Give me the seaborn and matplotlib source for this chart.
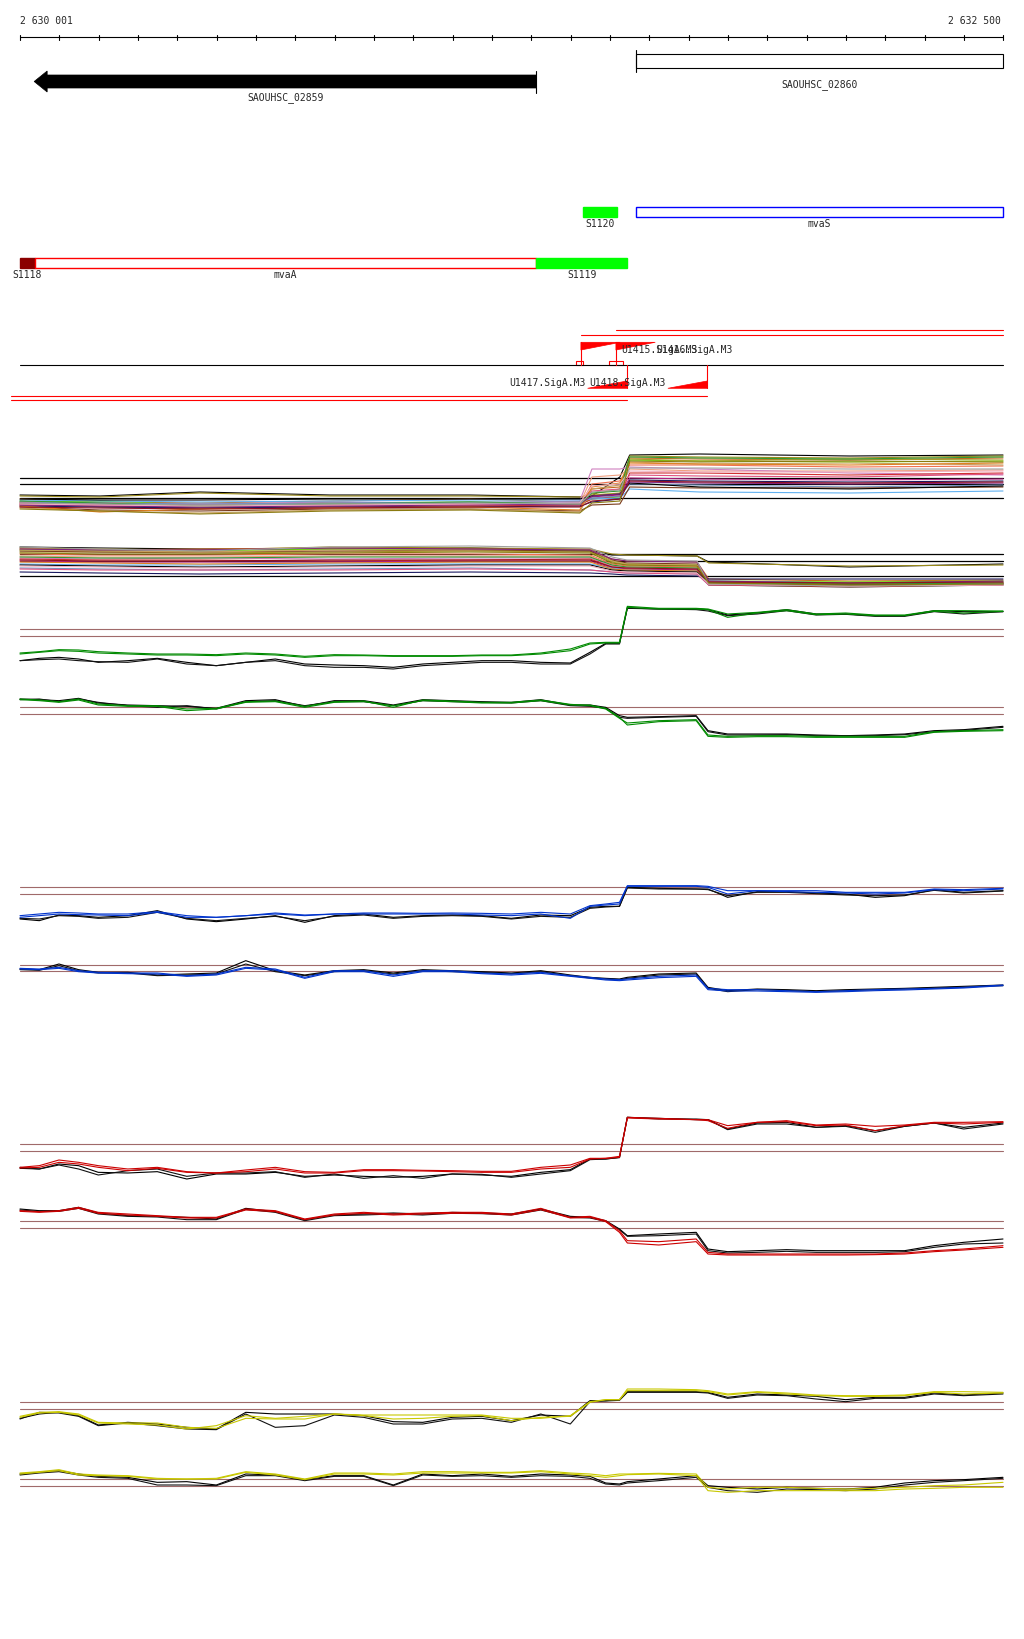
import numpy as np
import pandas as pd
import matplotlib
matplotlib.use("Agg")
import matplotlib.pyplot as plt
from matplotlib.patches import Rectangle, Polygon
import seaborn as sns

# ===================== DATA =====================
region_start = 2630001
region_end = 2632500
tick_step = 100
ruler_labels = ["2 630 001", "2 632 500"]

# genes (top lane)
gene_names = ["SAOUHSC_02859", "SAOUHSC_02860"]
gene_starts = [2630037, 2631567]
gene_ends = [2631313, 2632500]
gene_strands = ["-", "+"]

# feature lane 1
lane1_names = ["S1120", "mvaS"]
lane1_starts = [2631432, 2631567]
lane1_ends = [2631519, 2632500]
lane1_kind = ["fill_green", "outline_blue"]

# feature lane 2
lane2_names = ["S1118", "mvaA", "S1119"]
lane2_starts = [2630001, 2630038, 2631314]
lane2_ends = [2630038, 2631314, 2631544]
lane2_kind = ["fill_darkred", "outline_red", "fill_green"]

# promoters
prom_names = ["U1415.SigA.M3", "U1416.SigA.M3", "U1417.SigA.M3", "U1418.SigA.M3"]
prom_pos = [2631427, 2631516, 2631544, 2631748]
prom_strand = ["+", "+", "-", "-"]
prom_tx_end = [2632500, 2632500, 2629977, 2629977]
prom_box_starts = [2631414, 2631498]
prom_box_ends = [2631432, 2631534]

# ---- multi-condition tracks (A: upper, B: lower) ----
multi_colors = ["#000000", "#9a8a1a", "#c46a1e", "#66dd00", "#a89a2a", "#f07050",
                "#f0a080", "#d080c0", "#d03030", "#b02080", "#1a1a60", "#60b0f0",
                "#7090c0", "#7a3a1a", "#c8a060", "#e08020", "#e05080", "#000000",
                "#802080", "#339933", "#f0b0c0", "#901020", "#a0a0a0", "#8a7a10"]

trackA_pos = [2630001, 2630204, 2630458, 2630789, 2631145, 2631424,
              2631455, 2631526, 2631551, 2631729, 2632110, 2632500]
trackA_ref = [479, 485, 499]
trackA_values = [
    [496, 497, 493, 496, 496, 498, 497, 478, 456, 455, 457, 456],
    [497, 498, 494, 497, 497, 498, 495, 490, 457, 458, 459, 457],
    [500, 503, 504, 502, 500, 503, 490, 488, 459, 460, 461, 459],
    [503, 502, 506, 504, 503, 505, 500, 498, 461, 462, 463, 462],
    [502, 508, 510, 503, 506, 506, 496, 494, 460, 462, 460, 461],
    [504, 505, 508, 506, 505, 507, 485, 482, 466, 466, 468, 467],
    [505, 506, 507, 507, 506, 505, 478, 476, 470, 472, 472, 471],
    [503, 504, 505, 503, 504, 502, 470, 470, 468, 470, 474, 476],
    [506, 507, 509, 508, 507, 506, 500, 497, 474, 474, 476, 474],
    [505, 505, 506, 506, 505, 504, 498, 496, 479, 480, 481, 480],
    [507, 508, 509, 508, 508, 507, 503, 500, 481, 482, 483, 482],
    [501, 502, 503, 502, 501, 501, 500, 499, 490, 493, 494, 492],
    [503, 504, 505, 504, 503, 503, 499, 497, 485, 486, 488, 486],
    [508, 511, 512, 510, 510, 512, 506, 505, 488, 489, 489, 488],
    [509, 512, 514, 511, 510, 513, 490, 486, 463, 465, 464, 466],
    [507, 513, 510, 509, 508, 511, 488, 484, 464, 465, 466, 464],
    [504, 506, 507, 506, 505, 506, 492, 490, 476, 477, 478, 475],
    [500, 501, 501, 500, 500, 500, 497, 495, 484, 488, 490, 487],
    [506, 507, 508, 507, 506, 505, 497, 495, 483, 484, 485, 484],
    [502, 504, 507, 505, 503, 505, 494, 492, 458, 459, 460, 458],
    [505, 506, 507, 506, 505, 504, 487, 485, 472, 473, 473, 472],
    [508, 509, 510, 509, 508, 508, 502, 500, 482, 483, 484, 483],
    [504, 505, 506, 505, 504, 505, 493, 491, 469, 469, 470, 470],
    [510, 512, 515, 512, 511, 514, 504, 502, 462, 463, 462, 463],
]

trackB_pos = [2630001, 2630204, 2630458, 2630789, 2631145, 2631450,
              2631506, 2631544, 2631722, 2631752, 2632110, 2632500]
trackB_ref = [555, 562, 577]
trackB_values = [
    [548, 549, 550, 550, 549, 551, 556, 556, 557, 563, 568, 565],
    [549, 550, 551, 548, 549, 550, 555, 556, 557, 564, 567, 566],
    [550, 551, 550, 549, 550, 551, 560, 562, 563, 580, 582, 581],
    [551, 552, 552, 550, 551, 552, 562, 565, 566, 582, 583, 582],
    [553, 553, 554, 553, 552, 553, 563, 566, 567, 583, 585, 583],
    [555, 556, 556, 555, 555, 556, 565, 567, 568, 584, 585, 584],
    [557, 558, 558, 557, 557, 557, 566, 568, 569, 583, 586, 585],
    [559, 560, 559, 560, 559, 559, 567, 569, 570, 585, 587, 585],
    [560, 561, 561, 562, 561, 560, 568, 570, 571, 584, 586, 584],
    [562, 563, 563, 563, 562, 562, 569, 570, 571, 583, 585, 584],
    [573, 574, 575, 574, 573, 574, 575, 576, 577, 580, 580, 580],
    [565, 566, 566, 565, 565, 565, 569, 571, 572, 582, 584, 583],
    [569, 570, 571, 570, 569, 571, 573, 574, 575, 586, 588, 586],
    [552, 553, 553, 552, 551, 552, 561, 564, 565, 586, 588, 586],
    [551, 552, 553, 551, 551, 550, 562, 565, 566, 585, 587, 585],
    [563, 564, 565, 564, 563, 563, 570, 571, 572, 583, 585, 584],
    [570, 571, 571, 571, 570, 571, 573, 574, 575, 586, 587, 586],
    [566, 567, 568, 567, 566, 566, 571, 572, 573, 584, 586, 585],
    [550, 551, 551, 549, 550, 551, 560, 562, 563, 582, 584, 582],
    [558, 559, 559, 558, 558, 558, 566, 568, 569, 584, 585, 584],
    [567, 568, 569, 568, 567, 567, 572, 573, 574, 585, 587, 586],
    [561, 562, 562, 561, 561, 561, 568, 569, 570, 583, 584, 583],
    [548, 550, 552, 548, 547, 549, 558, 561, 562, 585, 587, 585],
    [554, 555, 555, 554, 553, 554, 564, 566, 567, 584, 586, 585],
]

# ---- single-condition tracks (signal units) ----
track_pos = [2630001, 2630050, 2630100, 2630150, 2630200, 2630275, 2630350, 2630425, 2630500, 2630575,
             2630650, 2630725, 2630800, 2630875, 2630950, 2631025, 2631100, 2631175, 2631250, 2631325,
             2631400, 2631450, 2631490, 2631525, 2631545, 2631625, 2631720, 2631750, 2631800, 2631875,
             2631950, 2632025, 2632100, 2632175, 2632250, 2632325, 2632400, 2632500]

# green pair
trackC_ref = [90, 112]
trackC_green1 = [162, 158, 152, 153, 158, 162, 165, 165, 167, 162, 165, 172, 167, 168, 170, 170, 170, 168, 168, 162,
                 150, 132, 130, 130, 22, 28, 28, 30, 45, 40, 32, 45, 42, 48, 48, 35, 35, 36]
trackC_green2 = [165, 160, 155, 157, 162, 165, 168, 168, 170, 165, 168, 175, 170, 170, 172, 172, 172, 170, 170, 165,
                 155, 135, 132, 132, 25, 30, 30, 32, 55, 42, 35, 47, 45, 50, 50, 37, 42, 37]
trackC_black1 = [185, 178, 175, 180, 190, 185, 178, 190, 200, 190, 180, 195, 198, 200, 205, 195, 190, 185, 185, 190,
                 192, 160, 133, 133, 27, 30, 30, 32, 48, 42, 32, 45, 45, 50, 50, 35, 38, 38]
trackC_black2 = [185, 182, 180, 185, 188, 190, 180, 195, 200, 190, 185, 200, 205, 205, 210, 200, 195, 190, 190, 195,
                 195, 165, 135, 135, 28, 30, 32, 36, 50, 45, 35, 48, 46, 52, 52, 38, 45, 38]
trackD_ref = [325, 346]
trackD_green1 = [302, 305, 310, 303, 318, 322, 322, 335, 330, 310, 308, 325, 310, 308, 320, 305, 308, 312, 312, 305,
                 318, 318, 328, 355, 378, 368, 365, 412, 415, 413, 413, 415, 415, 415, 415, 400, 397, 395]
trackD_green2 = [300, 303, 308, 300, 315, 320, 320, 330, 328, 308, 306, 322, 308, 306, 325, 303, 306, 310, 310, 303,
                 316, 320, 330, 358, 372, 365, 362, 408, 412, 410, 410, 412, 412, 412, 412, 398, 395, 392]
trackD_black1 = [300, 302, 305, 298, 312, 318, 320, 322, 328, 305, 302, 322, 305, 305, 318, 302, 305, 308, 310, 302,
                 318, 318, 325, 350, 355, 353, 350, 395, 405, 405, 405, 408, 410, 408, 405, 395, 392, 382]
trackD_black2 = [302, 300, 308, 300, 310, 320, 325, 320, 330, 308, 305, 320, 308, 308, 320, 305, 308, 310, 312, 305,
                 320, 322, 328, 355, 358, 355, 352, 398, 408, 408, 407, 410, 410, 410, 407, 398, 394, 385]

# blue pair
trackE_ref = [55, 75]
trackE_blue1 = [140, 135, 130, 132, 135, 135, 128, 140, 145, 140, 132, 138, 135, 132, 132, 133, 132, 133, 135, 130,
                135, 110, 105, 100, 50, 50, 50, 52, 65, 65, 65, 65, 70, 70, 70, 60, 62, 58]
trackE_blue2 = [145, 140, 135, 137, 138, 140, 130, 145, 145, 140, 135, 140, 135, 135, 135, 135, 135, 138, 140, 135,
                148, 112, 108, 105, 52, 52, 52, 55, 75, 65, 68, 70, 72, 75, 72, 62, 65, 60]
trackE_black1 = [150, 155, 138, 140, 145, 140, 125, 150, 158, 150, 140, 160, 140, 135, 145, 140, 138, 140, 148, 138,
                 140, 115, 112, 112, 55, 58, 60, 60, 85, 68, 68, 72, 75, 85, 80, 62, 70, 65]
trackE_black2 = [148, 150, 140, 142, 148, 145, 130, 148, 155, 148, 142, 155, 142, 138, 148, 142, 140, 142, 150, 142,
                 145, 118, 114, 112, 57, 60, 60, 62, 80, 70, 70, 74, 78, 80, 78, 64, 72, 66]
trackF_ref = [287, 307]
trackF_blue1 = [298, 300, 295, 305, 310, 312, 312, 320, 315, 295, 300, 325, 305, 305, 318, 305, 305, 312, 315, 310,
                320, 325, 330, 332, 330, 322, 318, 358, 362, 362, 365, 368, 365, 362, 360, 358, 355, 348]
trackF_blue2 = [300, 302, 298, 308, 312, 314, 315, 322, 318, 298, 303, 328, 308, 308, 322, 308, 308, 314, 318, 313,
                322, 328, 333, 335, 333, 326, 322, 362, 366, 366, 368, 370, 368, 365, 363, 360, 357, 350]
trackF_black1 = [300, 302, 285, 302, 310, 310, 318, 315, 312, 275, 305, 318, 305, 302, 312, 302, 305, 308, 312, 305,
                 318, 325, 328, 330, 325, 315, 312, 355, 365, 360, 362, 365, 362, 360, 358, 355, 352, 348]
trackF_black2 = [302, 304, 290, 305, 312, 312, 320, 318, 315, 285, 308, 320, 308, 305, 315, 305, 308, 310, 314, 308,
                 320, 327, 330, 332, 328, 318, 315, 358, 368, 362, 364, 368, 365, 362, 360, 357, 354, 350]

# red pair
trackG_ref = [135, 157]
trackG_red1 = [205, 200, 183, 190, 200, 210, 205, 218, 222, 213, 205, 218, 220, 212, 212, 214, 215, 217, 217, 205,
               198, 178, 178, 172, 55, 58, 62, 62, 80, 70, 65, 78, 75, 82, 78, 70, 70, 68]
trackG_red2 = [207, 205, 190, 195, 205, 215, 208, 220, 222, 218, 210, 222, 222, 215, 215, 216, 218, 220, 220, 210,
               205, 180, 178, 175, 57, 60, 62, 65, 88, 70, 68, 80, 78, 95, 80, 72, 75, 70]
trackG_black1 = [208, 210, 195, 200, 220, 222, 218, 240, 225, 225, 220, 232, 228, 232, 235, 232, 225, 228, 232, 220,
                 212, 180, 180, 175, 55, 58, 62, 62, 90, 72, 70, 85, 80, 95, 82, 72, 85, 72]
trackG_black2 = [205, 210, 198, 210, 228, 215, 210, 232, 222, 222, 218, 235, 225, 238, 230, 238, 225, 226, 235, 225,
                 215, 182, 180, 176, 55, 60, 60, 62, 92, 75, 75, 85, 82, 100, 82, 72, 90, 75]
trackH_ref = [367, 388]
trackH_red1 = [335, 338, 335, 325, 340, 345, 350, 355, 355, 330, 335, 360, 345, 340, 345, 342, 340, 340, 345, 328,
               355, 352, 365, 395, 425, 428, 420, 460, 465, 465, 465, 465, 465, 465, 462, 455, 450, 440]
trackH_red2 = [337, 340, 337, 328, 343, 348, 352, 357, 357, 333, 338, 362, 348, 343, 348, 345, 343, 343, 348, 332,
               357, 355, 368, 400, 432, 438, 428, 465, 468, 468, 468, 468, 468, 467, 465, 458, 453, 445]
trackH_black1 = [330, 335, 335, 325, 342, 350, 352, 355, 360, 328, 338, 362, 348, 345, 342, 345, 340, 342, 345, 330,
                 352, 355, 365, 390, 410, 405, 400, 450, 458, 455, 452, 455, 455, 455, 455, 440, 430, 420]
trackH_black2 = [333, 337, 337, 328, 345, 352, 354, 362, 362, 331, 340, 365, 350, 348, 345, 348, 343, 344, 348, 333,
                 355, 357, 367, 392, 412, 410, 405, 455, 462, 460, 457, 460, 460, 460, 458, 445, 435, 432]

# yellow pair
trackI_ref = [70, 91]
trackI_yellow1 = [112, 100, 98, 105, 130, 132, 132, 145, 148, 118, 120, 120, 105, 108, 108, 108, 108, 108, 118, 118,
                  110, 68, 62, 62, 30, 30, 32, 35, 45, 38, 42, 48, 50, 50, 48, 38, 38, 40]
trackI_yellow2 = [115, 102, 100, 108, 132, 135, 138, 150, 140, 110, 118, 112, 105, 110, 120, 118, 112, 110, 125, 115,
                  112, 70, 62, 62, 35, 35, 35, 38, 48, 40, 45, 50, 52, 52, 50, 40, 45, 42]
trackI_black1 = [118, 105, 100, 110, 138, 130, 135, 145, 150, 100, 105, 105, 105, 110, 128, 130, 115, 112, 125, 108,
                 112, 65, 65, 62, 38, 38, 38, 40, 55, 45, 48, 52, 62, 55, 55, 42, 48, 42]
trackI_black2 = [120, 100, 102, 112, 140, 132, 140, 150, 152, 105, 145, 140, 108, 115, 135, 135, 120, 118, 130, 105,
                 135, 68, 66, 64, 40, 40, 40, 42, 58, 48, 50, 60, 68, 58, 58, 45, 50, 45]
trackJ_ref = [300, 322]
trackJ_yellow1 = [282, 278, 272, 285, 288, 290, 298, 300, 298, 278, 285, 300, 282, 282, 285, 278, 278, 280, 280, 275,
                  282, 285, 290, 285, 285, 283, 285, 325, 330, 325, 325, 328, 330, 328, 325, 320, 318, 310]
trackJ_yellow2 = [285, 280, 275, 288, 290, 292, 300, 300, 300, 280, 288, 302, 285, 285, 288, 282, 282, 282, 282, 278,
                  285, 290, 295, 290, 287, 285, 290, 335, 340, 335, 335, 335, 335, 335, 330, 328, 325, 325]
trackJ_black1 = [285, 280, 275, 285, 292, 295, 310, 308, 318, 285, 288, 302, 290, 290, 318, 285, 290, 285, 292, 285,
                 288, 292, 312, 315, 308, 300, 290, 320, 325, 330, 325, 328, 330, 325, 312, 305, 302, 295]
trackJ_black2 = [288, 282, 278, 288, 295, 298, 318, 318, 320, 290, 290, 305, 292, 292, 320, 288, 292, 290, 295, 290,
                 292, 298, 315, 318, 312, 305, 295, 325, 335, 340, 330, 332, 335, 330, 318, 310, 305, 298]

# ===================== LAYOUT / STYLE =====================
sns.set_style("white")
plt.rcParams["font.family"] = ["DejaVu Sans Mono", "DejaVu Sans"]
FS = 7
W, H = 1024, 1640
px_per_bp = 983.0 / (region_end - region_start)
left_pad_px = 20
x_lo = region_start - left_pad_px / px_per_bp
x_hi = x_lo + W / px_per_bp
REF_COLOR = "#a06a6a"
LW = 0.8

fig = plt.figure(figsize=(W / 100, H / 100), dpi=100)


def px(n):
    """pixel length -> bp length"""
    return n / px_per_bp


ax = fig.add_axes([0, 0, 1, 1])
ax.set_xlim(x_lo, x_hi)
ax.set_ylim(H, 0)
ax.axis("off")

# ---- ruler ----
ax.plot([region_start, region_end], [38, 38], color="black", lw=LW)
for t in np.arange(region_start, region_end + 2, tick_step):
    ax.plot([t, t], [35.5, 40.5], color="black", lw=LW)
ax.text(region_start, 20.5, ruler_labels[0], ha="left", va="center", fontsize=FS)
ax.text(region_end - px(2), 20.5, ruler_labels[1], ha="right", va="center", fontsize=FS)

# ---- genes ----
for name, s, e, st in zip(gene_names, gene_starts, gene_ends, gene_strands):
    if st == "-":
        head = px(13)
        poly = [(e, 76), (s + head, 76), (s + head, 72), (s, 82.5), (s + head, 93),
                (s + head, 89), (e, 89)]
        ax.add_patch(Polygon(poly, closed=True, facecolor="black", edgecolor="black", lw=0.5))
        ax.plot([e, e], [72, 94], color="black", lw=LW)
        ax.text((s + e) / 2, 98, name, ha="center", va="center", fontsize=FS)
    else:
        ax.add_patch(Rectangle((s, 55), e - s, 13.5, facecolor="white", edgecolor="black", lw=LW))
        ax.plot([s, s], [51, 72.5], color="black", lw=LW)
        ax.text((s + e) / 2, 85, name, ha="center", va="center", fontsize=FS)

kind_style = {
    "fill_green": dict(facecolor="#00ff00", edgecolor="#00ff00"),
    "outline_blue": dict(facecolor="white", edgecolor="#0000ff"),
    "fill_darkred": dict(facecolor="#8b0000", edgecolor="#8b0000"),
    "outline_red": dict(facecolor="white", edgecolor="#ff0000"),
}
for names, starts, ends, kinds, ytop, ylab in [
        (lane1_names, lane1_starts, lane1_ends, lane1_kind, 207.5, 224),
        (lane2_names, lane2_starts, lane2_ends, lane2_kind, 258.5, 275.5)]:
    for n, s, e, k in zip(names, starts, ends, kinds):
        ax.add_patch(Rectangle((s, ytop), e - s, 10, lw=1, **kind_style[k]))
        ax.text((s + e) / 2, ylab, n, ha="center", va="center", fontsize=FS)

# ---- promoters ----
SEP_Y = 366
ax.plot([region_start, region_end], [SEP_Y, SEP_Y], color="black", lw=LW)
tri_w = 100
fwd_tx_y = {0: 336, 1: 331.3}
rev_tx_y = {2: 401, 3: 397.3}
for i, (n, p, st, te) in enumerate(zip(prom_names, prom_pos, prom_strand, prom_tx_end)):
    if st == "+":
        ax.add_patch(Polygon([(p, 343.3), (p + tri_w, 343.3), (p, 351)], closed=True,
                             facecolor="red", edgecolor="red", lw=0.5))
        ax.plot([p, p], [343.3, SEP_Y], color="red", lw=LW)
        ax.plot([p, te], [fwd_tx_y[i], fwd_tx_y[i]], color="red", lw=LW)
        ax.text(p + tri_w + px(1), 350, n, ha="left", va="center", fontsize=FS)
    else:
        ax.add_patch(Polygon([(p, 389.3), (p - tri_w, 389.3), (p, 382)], closed=True,
                             facecolor="red", edgecolor="red", lw=0.5))
        ax.plot([p, p], [SEP_Y, 389.3], color="red", lw=LW)
        ax.plot([te, p], [rev_tx_y[i], rev_tx_y[i]], color="red", lw=LW)
        ax.text(p - tri_w - px(2), 382.7, n, ha="right", va="center", fontsize=FS)
for bs, be in zip(prom_box_starts, prom_box_ends):
    ax.add_patch(Rectangle((bs, 362.3), be - bs, 3.7, facecolor="none", edgecolor="red", lw=LW))


# ---- track helpers ----
def track_axes(top_px, height_px, ylim):
    a = fig.add_axes([0, 1 - (top_px + height_px) / H, 1, height_px / H])
    a.set_xlim(x_lo, x_hi)
    a.set_ylim(*ylim)
    a.patch.set_alpha(0)
    a.axis("off")
    return a


def draw_lines(a, pos, series, colors, lw):
    rows = []
    for k, vals in enumerate(series):
        for xv, yv in zip(pos, vals):
            rows.append((xv, yv, f"s{k:02d}"))
    df = pd.DataFrame(rows, columns=["pos", "val", "series"])
    pal = {f"s{k:02d}": c for k, c in enumerate(colors)}
    sns.lineplot(data=df, x="pos", y="val", hue="series", palette=pal, estimator=None,
                 legend=False, ax=a, linewidth=lw)
    a.set_xlabel("")
    a.set_ylabel("")
    a.axis("off")


def ref_lines(a, ys, color, lw=LW):
    for y in ys:
        a.plot([region_start, region_end], [y, y], color=color, lw=lw)


# multi tracks
axAB = track_axes(440, 200, (640, 440))
ref_lines(axAB, trackA_ref + trackB_ref, "black", 0.9)
draw_lines(axAB, trackA_pos, trackA_values, multi_colors, LW)
draw_lines(axAB, trackB_pos, trackB_values, multi_colors, LW)
axAB.set_xlim(x_lo, x_hi)
axAB.set_ylim(640, 440)

single_tracks = [
    (600, 150, (450, 0), "#008a00",
     [(trackC_ref, [trackC_black1, trackC_black2], [trackC_green1, trackC_green2]),
      (trackD_ref, [trackD_black1, trackD_black2], [trackD_green1, trackD_green2])]),
    (870, 130, (390, 0), "#0033cc",
     [(trackE_ref, [trackE_black1, trackE_black2], [trackE_blue1, trackE_blue2]),
      (trackF_ref, [trackF_black1, trackF_black2], [trackF_blue1, trackF_blue2])]),
    (1100, 170, (510, 0), "#cc0000",
     [(trackG_ref, [trackG_black1, trackG_black2], [trackG_red1, trackG_red2]),
      (trackH_ref, [trackH_black1, trackH_black2], [trackH_red1, trackH_red2])]),
    (1380, 120, (360, 0), "#c8c800",
     [(trackI_ref, [trackI_black1, trackI_black2], [trackI_yellow1, trackI_yellow2]),
      (trackJ_ref, [trackJ_black1, trackJ_black2], [trackJ_yellow1, trackJ_yellow2])]),
]
for top, hgt, ylim, col, pairs in single_tracks:
    a = track_axes(top, hgt, ylim)
    for refs, blacks, colored in pairs:
        ref_lines(a, refs, REF_COLOR, LW)
        draw_lines(a, track_pos, blacks, ["black", "#111111"], LW)
        draw_lines(a, track_pos, colored, [col, col], LW)
    a.set_xlim(x_lo, x_hi)
    a.set_ylim(*ylim)

fig.savefig("out.png", dpi=100, facecolor="white")
